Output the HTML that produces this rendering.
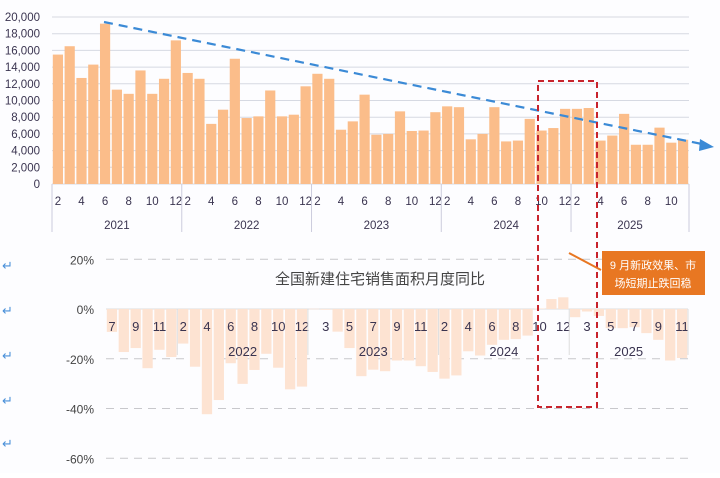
<!DOCTYPE html>
<html><head><meta charset="utf-8"><style>
body{margin:0;background:#fff;}
svg text{font-family:"Liberation Sans","Noto Sans CJK SC",sans-serif;}
</style></head><body>
<svg id="c" width="720" height="473" viewBox="0 0 720 473" xmlns="http://www.w3.org/2000/svg">
<rect width="720" height="473" fill="#fdfdff"/>
<g id="top"></g><g id="bot"></g>
<text x="380" y="284" font-size="15" fill="#444" text-anchor="middle">全国新建住宅销售面积月度同比</text>
<line x1="104" y1="22" x2="702" y2="144" stroke="#3b8ad6" stroke-width="2.2" stroke-dasharray="9,6"/>
<polygon points="714,147 700,139 699,151" fill="#3b8ad6"/>
<rect x="538" y="81" width="59" height="326" fill="none" stroke="#c8232c" stroke-width="2" stroke-dasharray="6,4"/>
<line x1="569" y1="253" x2="601" y2="270" stroke="#e87722" stroke-width="2"/>
<rect x="602" y="251" width="103" height="44" fill="#e87722"/>
<text x="653" y="269" font-size="11" fill="#fff" text-anchor="middle">9 月新政效果、市</text>
<text x="653" y="287" font-size="11" fill="#fff" text-anchor="middle">场短期止跌回稳</text>
<g font-size="13" fill="#4a90d9">
<text x="2" y="270">↵</text><text x="2" y="315">↵</text><text x="2" y="360">↵</text><text x="2" y="405">↵</text><text x="2" y="448">↵</text>
</g>
</svg>
<script>
const topMonths=[2,3,4,5,6,7,8,9,10,11,12, 2,3,4,5,6,7,8,9,10,11,12, 2,3,4,5,6,7,8,9,10,11,12, 2,3,4,5,6,7,8,9,10,11,12, 2,3,4,5,6,7,8,9,10,11];
const topYears=["2021","2022","2023","2024","2025"];
const topYearCounts=[11,11,11,11,10];
const salesArea=[15500,16500,12700,14300,19200,11300,10800,13600,10800,12600,17200,
13300,12600,7200,8900,15000,7900,8100,11200,8100,8300,11700,
13200,12600,6500,7500,10700,5900,6000,8700,6350,6400,8600,
9300,9200,5350,6000,9200,5100,5200,7800,6400,6700,9000,
9000,9100,5200,5800,8400,4700,4700,6750,4950,5300];
const topTicks=[0,2000,4000,6000,8000,10000,12000,14000,16000,18000,20000];
const botMonths=[7,8,9,10,11,12, 2,3,4,5,6,7,8,9,10,11,12, 2,3,4,5,6,7,8,9,10,11,12, 2,3,4,5,6,7,8,9,10,11,12, 2,3,4,5,6,7,8,9,10,11];
const botYearCounts=[6,11,11,11,10];
const botYearLabels=["","2022","2023","2024","2025"];
const botLabelParity=[1,0,1,0,1];
const yoy=[-9.2,-17.3,-15.7,-23.8,-16.4,-19.3,
-13.9,-23.2,-42.3,-36.6,-21.8,-30.1,-24.5,-18.0,-23.6,-32.3,-31.2,
0.1,-0.3,-9.1,-15.7,-27.0,-24.4,-25.0,-20.7,-20.7,-23.0,-25.3,
-28.0,-26.7,-17.0,-18.7,-14.4,-12.4,-12.1,-10.7,0.2,4.0,4.7,
-3.3,-1.0,-2.8,-7.7,-7.7,-7.3,-9.7,-12.4,-20.7,-19.7];
const botTicks=[20,0,-20,-40,-60];
const NS="http://www.w3.org/2000/svg";
function mk(p,t,a){const e=document.createElementNS(NS,t);for(const k in a)e.setAttribute(k,a[k]);p.appendChild(e);return e;}
// top chart
const T=document.getElementById('top');
const tx0=52,tx1=689,ty0=184,ty1=17;
const tbw=(tx1-tx0)/salesArea.length;
const ty=v=>ty0-(v-topTicks[0])/(topTicks[topTicks.length-1]-topTicks[0])*(ty0-ty1);
const txi=i=>tx0+i*tbw;
topTicks.forEach(v=>{
  const l=mk(T,'line',{x1:tx0,x2:tx1,y1:ty(v),y2:ty(v),stroke:'#d6d9e2','stroke-width':1});
  
  
  const t=mk(T,'text',{x:40,y:ty(v)+4,'font-size':11.5,fill:'#3a3450','text-anchor':'end'});
  t.textContent=v.toLocaleString('en-US');
  
  
});
salesArea.forEach((v,i)=>{
  const r=mk(T,'rect',{x:txi(i)+0.8,y:ty(v),width:tbw-1.6,height:ty0-ty(v),fill:'#fbbd8a'});
  
  
  if(topMonths[i]%2===0){
    const t=mk(T,'text',{x:txi(i)+tbw/2,y:205,'font-size':11.5,fill:'#3a3450','text-anchor':'middle'});
    t.textContent=topMonths[i];
    
    
  }
});
let acc=0;
mk(T,'line',{x1:tx0,x2:tx0,y1:ty0,y2:232,stroke:'#ccd','stroke-width':1});
topYearCounts.forEach((c,k)=>{
  const xs=txi(acc),xe=txi(acc+c);
  const l=mk(T,'line',{x1:xe,x2:xe,y1:ty0,y2:232,stroke:'#ccd','stroke-width':1});
  
  
  const t=mk(T,'text',{x:(xs+xe)/2,y:229,'font-size':11.5,fill:'#3a3450','text-anchor':'middle'});
  t.textContent=topYears[k];
  
  
  acc+=c;
});
// bottom chart
const B=document.getElementById('bot');
const bx0=106,bx1=688,by0=309,pp=(458-259)/80;
const by=v=>by0-v*pp;
const bbw=(bx1-bx0)/yoy.length;
const bxi=i=>bx0+i*bbw;
botTicks.forEach(v=>{
  const l=mk(B,'line',{x1:bx0,x2:bx1,y1:by(v),y2:by(v),stroke:v===0?'#ddd':'#c8c8cc','stroke-width':1,'stroke-dasharray':v===0?'':'8,6'});
  
  
  const t=mk(B,'text',{x:94,y:by(v)+5,'font-size':12,fill:'#444','text-anchor':'end'});
  t.textContent=v+'%';
  
  
});
yoy.forEach((v,i)=>{
  const y=Math.min(by(v),by0),h=Math.abs(by(v)-by0);
  const r=mk(B,'rect',{x:bxi(i)+0.8,y:y,width:bbw-1.6,height:Math.max(h,0.5),fill:'#fde3d2'});
  
  
});
acc=0;
botYearCounts.forEach((c,k)=>{
  for(let i=acc;i<acc+c;i++){
    if(botMonths[i]%2===botLabelParity[k]){
      const t=mk(B,'text',{x:bxi(i)+bbw/2,y:331,'font-size':13,fill:'#3a3450','text-anchor':'middle'});
      t.textContent=botMonths[i];
      
      
    }
  }
  const xs=bxi(acc),xe=bxi(acc+c);
  const l=mk(B,'line',{x1:xe,x2:xe,y1:by0,y2:355,stroke:'#ddd','stroke-width':1});
  
  
  if(botYearLabels[k]){
    const t=mk(B,'text',{x:(xs+xe)/2,y:356,'font-size':13,fill:'#3a3450','text-anchor':'middle'});
    t.textContent=botYearLabels[k];
    
    
  }
  acc+=c;
});
</script>
</body></html>
